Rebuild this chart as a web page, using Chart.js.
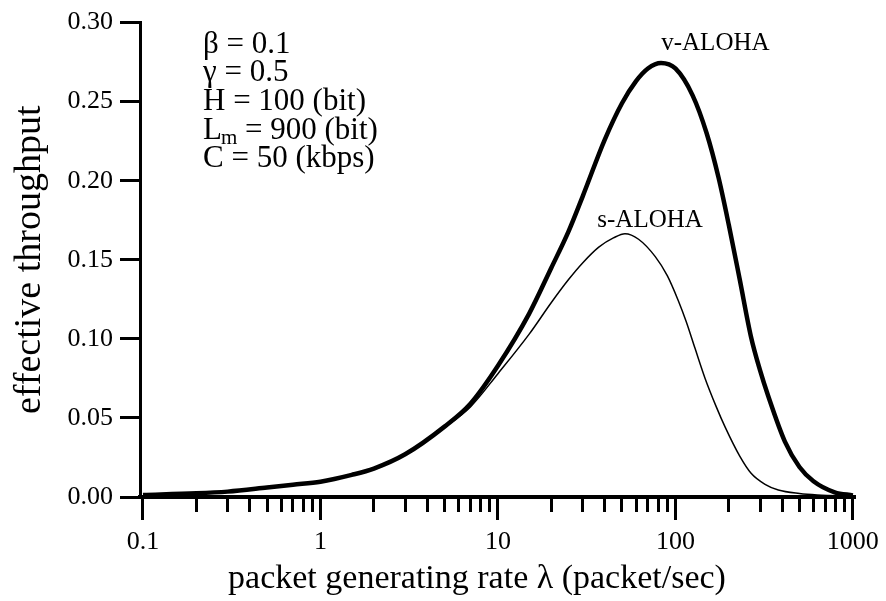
<!DOCTYPE html>
<html>
<head>
<meta charset="utf-8">
<script src="https://cdn.jsdelivr.net/npm/chart.js@4.4.1/dist/chart.umd.min.js"></script>
<style>
  html, body { margin: 0; padding: 0; background: #fff; }
  canvas { display: block; }
</style>
</head>
<body>
<canvas id="alohaChart" width="886" height="601"></canvas>
<script>
// ===== data =====
const vRates = [0.1, 0.2, 0.3, 0.5, 0.7, 1, 1.5, 2, 3, 5, 7, 10, 15, 20, 25, 30, 40, 50, 60, 70, 83,
    100, 125, 150, 175, 200, 230, 267, 300, 333, 414, 500, 600, 790, 1000];
const vThroughput = [0.0013, 0.0023, 0.0034, 0.0060, 0.0078, 0.0097, 0.0140, 0.018, 0.027, 0.0445, 0.059,
    0.083, 0.116, 0.145, 0.168, 0.190, 0.226, 0.249, 0.263, 0.271, 0.2745,
    0.271, 0.254, 0.230, 0.202, 0.172, 0.138, 0.101, 0.080, 0.064, 0.035, 0.019, 0.010, 0.003, 0.001];

const sRates = [0.1, 0.2, 0.3, 0.5, 0.7, 1, 1.5, 2, 3, 5, 7, 10, 15, 20, 25, 30, 37, 45, 52, 62, 77,
    90, 104, 115, 129, 147, 170, 191, 230, 267, 320, 380, 500, 630, 1000];
const sThroughput = [0.0013, 0.0023, 0.0034, 0.0060, 0.0078, 0.0097, 0.0140, 0.018, 0.027, 0.044, 0.057,
    0.078, 0.103, 0.123, 0.1375, 0.148, 0.158, 0.164, 0.1665, 0.163, 0.152,
    0.140, 0.124, 0.111, 0.094, 0.075, 0.057, 0.044, 0.026, 0.015, 0.008, 0.0044, 0.0022, 0.0013, 0.0006];

const majorTicks = [0.1, 1, 10, 100, 1000];
const minorTicks = [];
[0.1, 1, 10, 100].forEach((d) => {
    for (let k = 2; k <= 9; k++) minorTicks.push(+(d * k).toPrecision(3));
});

const paramLines = ["β = 0.1", "γ = 0.5", "H = 100 (bit)", "L|m| = 900 (bit)", "C = 50 (kbps)"];
const curveLabels = [
    { text: "v-ALOHA", x: 168, y: 0.287 },
    { text: "s-ALOHA", x: 72, y: 0.175 }
];
const xTitle = "packet generating rate λ (packet/sec)";

const SERIF = '"Liberation Serif", "Times New Roman", serif';

function toPoints(xs, ys) {
    return xs.map((x, i) => ({ x: x, y: ys[i] }));
}

// text that sits on the plot: parameter block, curve names, x title
const annotations = {
    id: "annotations",
    afterDatasetsDraw(chart) {
        const ctx = chart.ctx;
        const area = chart.chartArea;
        const xs = chart.scales.x;
        const ys = chart.scales.y;
        ctx.save();
        ctx.fillStyle = "#000";
        ctx.textBaseline = "middle";

        // parameter block
        const left = area.left + 63;
        paramLines.forEach((line, i) => {
            const y = area.top + 22 + i * 28.6;
            ctx.font = "31px " + SERIF;
            ctx.textAlign = "left";
            const parts = line.split("|");
            if (parts.length === 3) {
                ctx.fillText(parts[0], left, y);
                let w = ctx.measureText(parts[0]).width;
                ctx.font = "21px " + SERIF;
                ctx.fillText(parts[1], left + w - 1, y + 8);
                w += ctx.measureText(parts[1]).width - 1;
                ctx.font = "31px " + SERIF;
                ctx.fillText(parts[2], left + w, y);
            } else {
                ctx.fillText(line, left, y);
            }
        });

        // curve names
        ctx.font = "25px " + SERIF;
        ctx.textAlign = "center";
        curveLabels.forEach((lab) => {
            ctx.fillText(lab.text, xs.getPixelForValue(lab.x), ys.getPixelForValue(lab.y));
        });

        // x axis title
        ctx.font = "34px " + SERIF;
        ctx.fillText(xTitle, area.left + 337, xs.bottom - 22);
        ctx.restore();
    }
};

const ctx = document.getElementById("alohaChart").getContext("2d");
new Chart(ctx, {
    type: "line",
    data: {
        datasets: [{
            label: "v-ALOHA",
            data: toPoints(vRates, vThroughput),
            borderColor: "#000",
            borderWidth: 4.5,
            pointRadius: 0,
            cubicInterpolationMode: "monotone",
            fill: false
        }, {
            label: "s-ALOHA",
            data: toPoints(sRates, sThroughput),
            borderColor: "#000",
            borderWidth: 1.5,
            pointRadius: 0,
            cubicInterpolationMode: "monotone",
            fill: false
        }]
    },
    options: {
        responsive: false,
        animation: false,
        devicePixelRatio: 1,
        layout: { padding: { top: 22, right: 28, bottom: 0, left: 0 } },
        plugins: {
            legend: { display: false },
            tooltip: { enabled: false }
        },
        scales: {
            xMinor: {
                type: "logarithmic",
                position: "bottom",
                weight: -1,
                min: 0.0962,
                max: 1040,
                afterBuildTicks: (scale) => { scale.ticks = minorTicks.map((v) => ({ value: v })); },
                afterFit: (scale) => { scale.height = 0; },
                border: { display: false },
                grid: {
                    display: true,
                    drawOnChartArea: false,
                    drawTicks: true,
                    tickLength: 15,
                    tickWidth: 3,
                    tickColor: "#000"
                },
                ticks: { display: false }
            },
            x: {
                type: "logarithmic",
                position: "bottom",
                weight: 0,
                min: 0.0962,
                max: 1040,
                afterBuildTicks: (scale) => { scale.ticks = majorTicks.map((v) => ({ value: v })); },
                afterFit: (scale) => { scale.height = 104; },
                border: { display: true, color: "#000", width: 4 },
                grid: {
                    drawOnChartArea: false,
                    drawTicks: true,
                    tickLength: 23,
                    tickWidth: 3,
                    tickColor: "#000"
                },
                ticks: {
                    autoSkip: false,
                    maxRotation: 0,
                    padding: 7,
                    color: "#000",
                    font: { family: SERIF, size: 26 },
                    callback: (v) => String(v)
                }
            },
            y: {
                min: 0,
                max: 0.30,
                afterFit: (scale) => { scale.width = 140; },
                border: { display: true, color: "#000", width: 3 },
                grid: {
                    drawOnChartArea: false,
                    drawTicks: true,
                    tickLength: 20,
                    tickWidth: 3,
                    tickColor: "#000"
                },
                ticks: {
                    stepSize: 0.05,
                    padding: 7,
                    color: "#000",
                    font: { family: SERIF, size: 26 },
                    callback: (v) => v.toFixed(2)
                },
                title: {
                    display: true,
                    text: "effective throughput",
                    color: "#000",
                    font: { family: SERIF, size: 38 },
                    padding: { top: 7, bottom: 0 }
                }
            }
        }
    },
    plugins: [annotations]
});
</script>
</body>
</html>
